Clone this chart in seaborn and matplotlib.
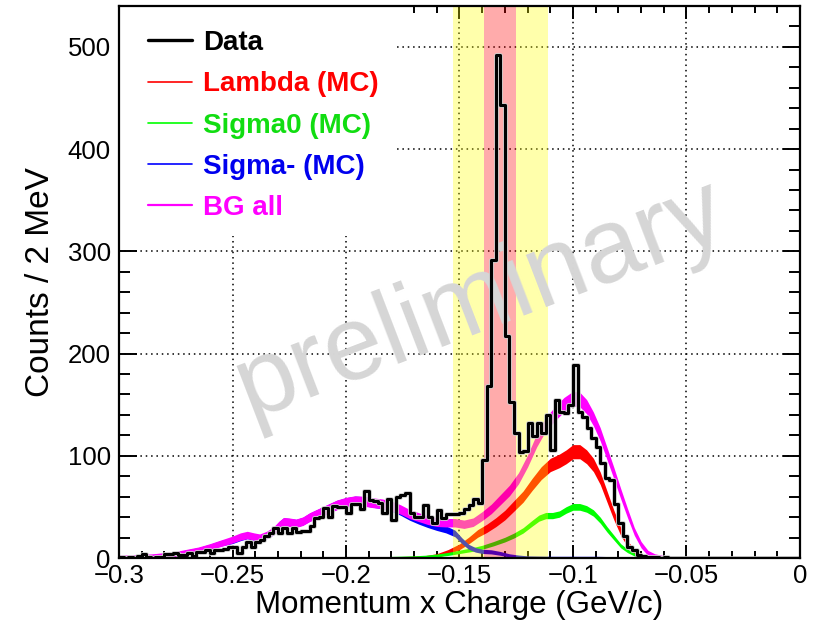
import numpy as np
import pandas as pd
import matplotlib
matplotlib.use("Agg")
import matplotlib.pyplot as plt
import matplotlib.patheffects as pe
from matplotlib.lines import Line2D
from matplotlib.patches import Rectangle
from matplotlib.ticker import MultipleLocator
import seaborn as sns

# ---------------- data ----------------
# Data histogram: 150 bins of 2 MeV from -0.3 to 0 GeV/c
data_counts = [
    1, 0, 1, 0, 2, 4, 1, 0, 1, 1,
    4, 4, 5, 3, 3, 5, 2, 6, 6, 8,
    5, 8, 8, 9, 11, 11, 5, 11, 16, 11,
    16, 18, 22, 24, 29, 24, 29, 24, 29, 25,
    26, 26, 31, 39, 40, 49, 40, 51, 50, 50,
    44, 53, 53, 48, 66, 57, 56, 54, 44, 58,
    37, 60, 62, 64, 44, 40, 40, 52, 40, 34,
    47, 39, 43, 43, 43, 44, 48, 52, 58, 54,
    96, 168, 292, 492, 443, 217, 153, 122, 104, 105,
    132, 119, 132, 122, 140, 106, 155, 143, 142, 150,
    189, 143, 138, 127, 117, 109, 93, 78, 76, 53,
    34, 22, 11, 8, 3, 2, 1, 1, 1, 0,
    1, 0, 0, 0, 0, 0, 0, 0, 0, 0,
    0, 0, 0, 0, 0, 0, 0, 0, 0, 0,
    0, 0, 0, 0, 0, 0, 0, 0, 0, 0,
]

# BG all (magenta)
bg_x = [-0.300, -0.295, -0.290, -0.285, -0.280, -0.275, -0.270, -0.265, -0.260, -0.255,
        -0.250, -0.2465, -0.2435, -0.2405, -0.238, -0.235, -0.232, -0.2295, -0.2275, -0.225,
        -0.222, -0.219, -0.216, -0.213, -0.210, -0.207, -0.204, -0.200, -0.196, -0.192,
        -0.188, -0.184, -0.180, -0.176, -0.172, -0.168, -0.164, -0.160, -0.156, -0.152,
        -0.148, -0.144, -0.140, -0.136, -0.132, -0.128, -0.124, -0.120, -0.116, -0.112,
        -0.108, -0.104, -0.100, -0.097, -0.094, -0.091, -0.088, -0.085, -0.082, -0.079,
        -0.076, -0.073, -0.070, -0.067, -0.064, -0.060, -0.050]
bg_y = [1, 1, 1.5, 2, 3, 4, 6, 8, 11, 14.5,
        18, 21, 22.5, 21, 20, 22.5, 26.5, 32, 35.5, 35,
        34, 36, 40, 43, 46, 49, 52, 54.5, 56, 55.5,
        54, 53, 51, 47.5, 43, 40, 37, 35, 34.5, 34.5,
        33, 35, 41, 48, 57, 66, 78, 95, 115, 131,
        141, 150, 156, 155, 148, 136, 121, 102, 83, 63,
        44, 26, 13, 5, 2, 0.5, 0]

# Lambda (MC) (red)
lam_x = [-0.300, -0.200, -0.180, -0.170, -0.165, -0.160, -0.155, -0.150, -0.146, -0.142,
         -0.138, -0.134, -0.130, -0.126, -0.122, -0.118, -0.114, -0.110, -0.106, -0.103,
         -0.100, -0.097, -0.094, -0.091, -0.088, -0.085, -0.082, -0.079, -0.076, -0.073,
         -0.070, -0.067, -0.063, 0.0]
lam_y = [0, 0, 0.2, 0.5, 1, 2.5, 6, 11, 17, 24,
         29, 35, 42, 51, 60, 72, 83, 91, 95, 99,
         104, 104, 99, 91, 78, 60, 42, 26, 14, 6,
         2.5, 1, 0, 0]

# Sigma0 (MC) (green)
sig0_x = [-0.300, -0.190, -0.180, -0.170, -0.165, -0.160, -0.155, -0.150, -0.145, -0.140,
          -0.135, -0.130, -0.126, -0.122, -0.118, -0.115, -0.112, -0.109, -0.106, -0.103,
          -0.100, -0.097, -0.094, -0.091, -0.088, -0.085, -0.082, -0.079, -0.076, -0.073,
          -0.070, -0.066, -0.062, 0.0]
sig0_y = [0, 0, 0.5, 1, 1.5, 2.5, 4, 6, 8, 10.5,
          14, 18, 22, 27, 34, 39, 41.5, 41.5, 43, 47,
          50, 50, 48, 44, 37, 28, 20, 12, 7, 3.5,
          1.5, 0.5, 0, 0]

# Sigma- (MC) (blue)
sigm_x = [-0.300, -0.295, -0.290, -0.285, -0.280, -0.275, -0.270, -0.265, -0.260, -0.255,
          -0.250, -0.2465, -0.2435, -0.2405, -0.238, -0.235, -0.232, -0.2295, -0.2275, -0.225,
          -0.222, -0.219, -0.216, -0.213, -0.210, -0.207, -0.204, -0.200, -0.196, -0.192,
          -0.188, -0.184, -0.180, -0.176, -0.172, -0.168, -0.164, -0.160, -0.156, -0.152,
          -0.149, -0.146, -0.143, -0.140, -0.136, -0.132, -0.128, -0.124, -0.120, -0.110,
          -0.100, -0.090, -0.080, -0.070, 0.0]
sigm_y = [1, 1, 1.5, 2, 3, 4, 6, 8, 11, 14.5,
          17, 20, 22, 20.5, 19.5, 22, 26, 32, 35.5, 35,
          34, 36, 40, 43, 46, 49, 52, 54.5, 56, 55.5,
          54, 52.5, 50, 46, 41, 37, 33.5, 30.5, 28, 24,
          17, 11, 8, 6.5, 6, 4.5, 2.5, 1.5, 0.8, 0.5,
          0.5, 0.5, 0.2, 0, 0]

# selection windows
yellow_window = (-0.153, -0.111)
red_window = (-0.139, -0.125)

legend_labels = ["Data", "Lambda (MC)", "Sigma0 (MC)", "Sigma- (MC)", "BG all"]
xtick_vals = [-0.3, -0.25, -0.2, -0.15, -0.1, -0.05, 0.0]
xtick_labels = ["\u22120.3", "\u22120.25", "\u22120.2", "\u22120.15", "\u22120.1", "\u22120.05", "0"]
ytick_vals = [0, 100, 200, 300, 400, 500]
ytick_labels = ["0", "100", "200", "300", "400", "500"]

# ---------------- style ----------------
sns.set_theme(style="ticks")
plt.rcParams["font.family"] = ["Liberation Sans", "DejaVu Sans"]
plt.rcParams["text.color"] = "black"
plt.rcParams["axes.labelcolor"] = "black"
plt.rcParams["xtick.color"] = "black"
plt.rcParams["ytick.color"] = "black"

fig = plt.figure(figsize=(8.28, 6.21), dpi=100)
ax = fig.add_axes([119 / 828, 1 - 558 / 621, 681 / 828, 552 / 621])

MAGENTA = "#ff00ff"
RED = "#ff0000"
GREEN = "#00ff00"
BLUE = "#0000ff"

def band(xv, yv, color, k, base, z):
    xv = np.asarray(xv, float)
    yv = np.asarray(yv, float)
    w = base * (yv > 0) + k * np.sqrt(np.clip(yv, 0, None))
    ax.fill_between(xv, yv - w, yv + w, color=color, lw=0, zorder=z)

band(lam_x, lam_y, RED, 0.6, 0.8, 2.0)
band(sig0_x, sig0_y, GREEN, 0.35, 0.8, 2.1)
band(sigm_x, sigm_y, BLUE, 0.5, 0.8, 2.2)
band(bg_x, bg_y, MAGENTA, 0.45, 1.5, 2.3)

# shaded windows, drawn over the MC bands
ax.axvspan(yellow_window[0], red_window[0], color="#ffff00", alpha=0.33, lw=0, zorder=3)
ax.axvspan(red_window[1], yellow_window[1], color="#ffff00", alpha=0.33, lw=0, zorder=3)
ax.axvspan(red_window[0], red_window[1], color="#ff0000", alpha=0.33, lw=0, zorder=3)

# data histogram
edges = np.linspace(-0.3, 0.0, len(data_counts) + 1)
centers = 0.5 * (edges[:-1] + edges[1:])
df = pd.DataFrame({"x": centers, "w": np.asarray(data_counts, float)})
sns.histplot(data=df, x="x", weights="w", bins=len(data_counts), binrange=(-0.3, 0.0),
             element="step", fill=False, color="black", linewidth=2.2, ax=ax)
# raise the histogram outline above everything else
for art in ax.get_children():
    lbl = type(art).__name__
    if lbl in ("Line2D", "PathPatch", "Polygon") and art.get_zorder() < 3:
        art.set_zorder(6)
        art.set_path_effects([pe.Stroke(linewidth=3.4, foreground="#cfcfcf"), pe.Normal()])

# grid (dotted) at major ticks
ax.grid(True, which="major", linestyle=(0, (1, 2.5)), color="black", linewidth=1.1, zorder=1)
ax.set_axisbelow(True)

# white legend background hiding grid
ax.add_patch(Rectangle((0, (558 - 236) / 552), (394 - 119) / 681, 1 - (558 - 236) / 552,
                       transform=ax.transAxes, facecolor="white", edgecolor="none", zorder=1.5))

ax.set_xlim(-0.3, 0.0)
ax.set_ylim(0, 540)
ax.set_xticks(xtick_vals)
ax.set_xticklabels(xtick_labels)
ax.set_yticks(ytick_vals)
ax.set_yticklabels(ytick_labels)
ax.xaxis.set_minor_locator(MultipleLocator(0.01))
ax.yaxis.set_minor_locator(MultipleLocator(20))
ax.tick_params(axis="both", which="both", direction="in", top=True, right=True,
               colors="black", labelcolor="black", labelsize=18.5, width=1.4)
ax.tick_params(axis="x", which="major", length=9.5, pad=4)
ax.tick_params(axis="x", which="minor", length=5)
ax.tick_params(axis="y", which="major", length=12.6, pad=6)
ax.tick_params(axis="y", which="minor", length=7.7)
for s in ax.spines.values():
    s.set_linewidth(1.6)
    s.set_color("black")
    s.set_zorder(10)

ax.set_xlabel("Momentum x Charge (GeV/c)", fontsize=22.5, color="black")
ax.xaxis.label.set_va("bottom")
ax.xaxis.set_label_coords(0.5, (558 - 620) / 552)
ax.set_ylabel("Counts / 2 MeV", fontsize=24, labelpad=8, color="black")

# legend
handles = [
    Line2D([], [], color="black", lw=2.4),
    Line2D([], [], color=RED, lw=1.2),
    Line2D([], [], color=GREEN, lw=1.2),
    Line2D([], [], color=BLUE, lw=1.2),
    Line2D([], [], color=MAGENTA, lw=1.6),
]
text_colors = ["black", "#ff0000", "#11dd11", "#0000ee", "#ff00ff"]
leg = ax.legend(handles, legend_labels, loc="upper left",
                bbox_to_anchor=((148 - 119) / 681, (558 - 30) / 552),
                frameon=False, borderpad=0, borderaxespad=0, handlelength=1.6,
                handletextpad=0.38, labelspacing=0.55,
                prop={"family": "Liberation Sans", "weight": "bold", "size": 20})
leg.set_zorder(11)
for t, c in zip(leg.get_texts(), text_colors):
    t.set_color(c)

# watermark
ax.text((480 - 119) / 681, (558 - 300) / 552, "preliminary", transform=ax.transAxes,
        fontsize=76, color="#d6d6d6", rotation=21, ha="center", va="center", zorder=4,
        family="Liberation Sans")

fig.savefig("out.png", dpi=100)
